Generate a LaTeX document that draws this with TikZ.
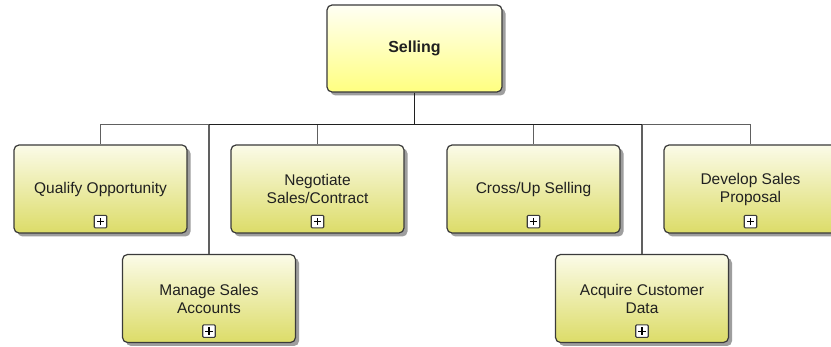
\documentclass[tikz,border=0pt]{standalone}
\usepackage{fontspec}
\setmainfont{Liberation Sans}
\usetikzlibrary{shadows,calc}
\definecolor{boxline}{HTML}{3A3A3A}
\definecolor{childtop}{HTML}{FBFBE8}
\definecolor{childbot}{HTML}{DCDC68}
\definecolor{roottop}{HTML}{FFFFF4}
\definecolor{rootbot}{HTML}{FFFF80}
\definecolor{linegray}{HTML}{606060}
\definecolor{linedark}{HTML}{202020}
\definecolor{txt}{HTML}{202020}
\tikzset{
  base/.style={draw=boxline, line width=1.2pt, rounded corners=5pt,
    minimum width=173pt, minimum height=88pt, inner sep=0pt,
    align=center, text=txt, font=\fontsize{15.5}{18}\selectfont,
    drop shadow={shadow xshift=3.5pt, shadow yshift=-3.5pt, fill=black!38, opacity=1}},
  childbox/.style={base, top color=childtop, bottom color=childbot},
  rootbox/.style={base, minimum width=175pt, minimum height=87pt,
    top color=roottop, bottom color=rootbot, font=\fontsize{16}{19}\selectfont\bfseries},
  plusbox/.style={draw=boxline, fill=white, line width=1.1pt, minimum size=12.5pt,
    inner sep=0pt, rounded corners=1pt,
    path picture={\draw[line width=1.1pt, black]
      ([xshift=2.6pt]path picture bounding box.west) -- ([xshift=-2.6pt]path picture bounding box.east)
      ([yshift=2.6pt]path picture bounding box.south) -- ([yshift=-2.6pt]path picture bounding box.north);}},
  graylink/.style={draw=linegray, line width=1.6pt},
  darklink/.style={draw=linedark, line width=1.8pt}
}
\begin{document}
\begin{tikzpicture}[x=1pt,y=-1pt]
\useasboundingbox (0,0) rectangle (831,347);
\fill[white] (0,0) rectangle (831,347);
% nodes
\node[rootbox]  (sell) at (414.5,48.5) {Selling};
\node[childbox] (qual) at (100.5,189) {Qualify Opportunity};
\node[childbox] (nego) at (317.5,189) {Negotiate\\Sales/Contract};
\node[childbox] (cross) at (533.5,189) {Cross/Up Selling};
\node[childbox] (dev) at (750.5,189) {Develop Sales\\Proposal};
\node[childbox] (man) at (209,298.5) {Manage Sales\\Accounts};
\node[childbox] (acq) at (642,298.5) {Acquire Customer\\Data};
% plus markers
\foreach \n in {qual,nego,cross,dev,man,acq}{
  \node[plusbox] (\n-plus) at ([yshift=12pt]\n.south) {};
}
% connectors
\coordinate (bus) at (414.5,124.5);
\foreach \n in {qual,man,nego,cross,acq,dev}{
  \draw[graylink] (bus) -| (\n.north);
}
\draw[darklink] (man.north |- bus) -- (acq.north |- bus);
\draw[darklink] (sell.south) -- (bus);
\end{tikzpicture}
\end{document}
